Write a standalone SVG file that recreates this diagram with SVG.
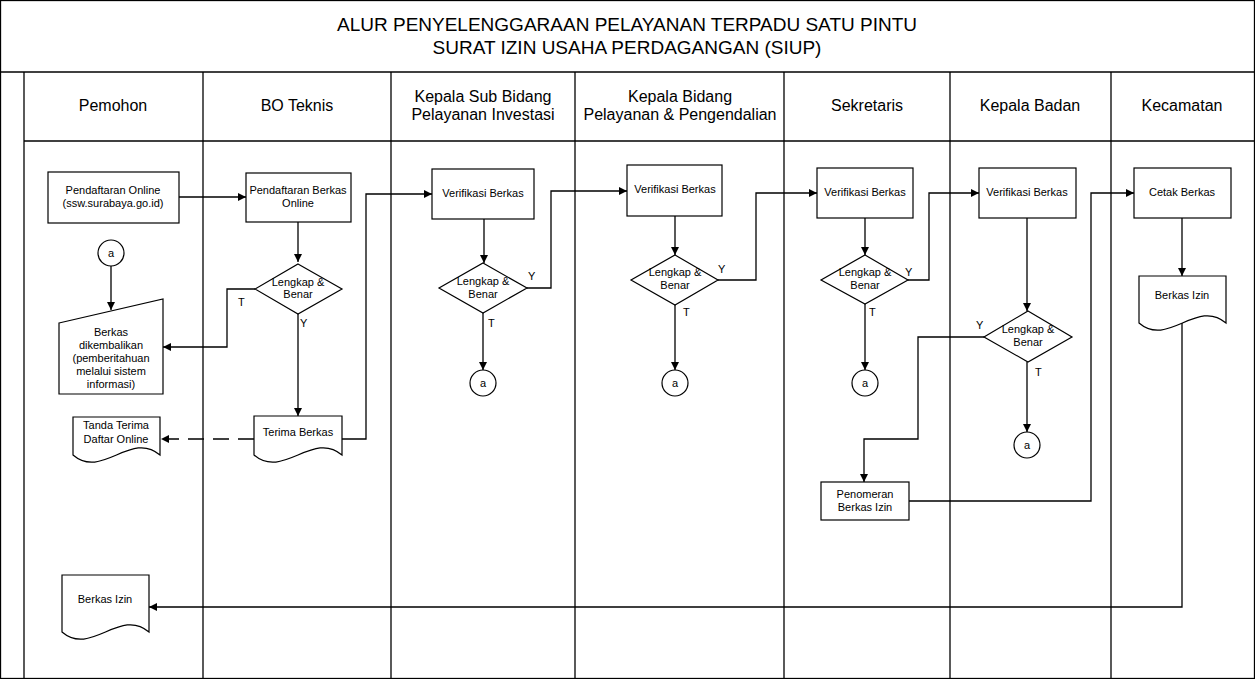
<svg xmlns="http://www.w3.org/2000/svg" width="1255" height="679" viewBox="0 0 1255 679">
<style>
text{font-family:"Liberation Sans",Arial,sans-serif;fill:#000}
.t{font-size:19px;text-anchor:middle}
.h{font-size:16px;text-anchor:middle}
.n{font-size:11px;text-anchor:middle}
.l{font-size:11px}
.grid{stroke:#000;stroke-width:1.3;fill:none}
.s{fill:#fff;stroke:#000;stroke-width:1.2}
.c{fill:none;stroke:#000;stroke-width:1.3;marker-end:url(#ah)}
.cn{fill:none;stroke:#000;stroke-width:1.3}
.d{fill:none;stroke:#000;stroke-width:1.3;stroke-dasharray:16 9;marker-end:url(#ah)}
</style>
<defs>
<marker id="ah" viewBox="0 0 10 10" refX="10" refY="5" markerWidth="8" markerHeight="8" markerUnits="userSpaceOnUse" orient="auto"><path d="M0,0 L10,5 L0,10 z" fill="#000"/></marker>
</defs>
<rect width="1255" height="679" fill="#fff"/>
<g id="frame">
<rect class="grid" x="0.5" y="0.5" width="1254" height="678"/>
<line class="grid" x1="0" y1="72" x2="1255" y2="72"/>
<line class="grid" x1="24" y1="141" x2="1255" y2="141"/>
<line class="grid" x1="24" y1="72" x2="24" y2="679"/>
<line class="grid" x1="203" y1="72" x2="203" y2="679"/>
<line class="grid" x1="391" y1="72" x2="391" y2="679"/>
<line class="grid" x1="575" y1="72" x2="575" y2="679"/>
<line class="grid" x1="784" y1="72" x2="784" y2="679"/>
<line class="grid" x1="950" y1="72" x2="950" y2="679"/>
<line class="grid" x1="1111" y1="72" x2="1111" y2="679"/>
<text class="t" x="627" y="31">ALUR PENYELENGGARAAN PELAYANAN TERPADU SATU PINTU</text>
<text class="t" x="627" y="54">SURAT IZIN USAHA PERDAGANGAN (SIUP)</text>
<text class="h" x="113" y="111">Pemohon</text>
<text class="h" x="297" y="111">BO Teknis</text>
<text class="h" x="483" y="102">Kepala Sub Bidang</text>
<text class="h" x="483" y="120">Pelayanan Investasi</text>
<text class="h" x="680" y="102">Kepala Bidang</text>
<text class="h" x="680" y="120">Pelayanan &amp; Pengendalian</text>
<text class="h" x="867" y="111">Sekretaris</text>
<text class="h" x="1030" y="111">Kepala Badan</text>
<text class="h" x="1182" y="111">Kecamatan</text>
</g>
<g id="connectors">
<path class="c" d="M179,197 H246"/>
<path class="c" d="M111,266 V310"/>
<path class="c" d="M298,222 V262"/>
<path class="c" d="M255,289 H227 V347 H163"/>
<path class="c" d="M298,314 V416"/>
<path class="d" d="M254,439 H161"/>
<path class="c" d="M342,439 H366 V194 H432"/>
<path class="c" d="M484,219 V263"/>
<path class="c" d="M527,288 H551 V191 H627"/>
<path class="c" d="M483,313 V370"/>
<path class="c" d="M675,216 V255"/>
<path class="c" d="M718,280 H756 V193 H817"/>
<path class="c" d="M675,305 V370"/>
<path class="c" d="M865,218 V255"/>
<path class="c" d="M908,280 H929 V193 H979"/>
<path class="c" d="M865,304 V370"/>
<path class="c" d="M1027,218 V311"/>
<path class="c" d="M984,337 H918 V439 H864 V482"/>
<path class="c" d="M1027,362 V432"/>
<path class="c" d="M909,501 H1091 V193 H1134"/>
<path class="c" d="M1182,218 V276"/>
<path class="c" d="M1182,322 V607 H149"/>
<text class="l" x="238" y="306">T</text>
<text class="l" x="300" y="327">Y</text>
<text class="l" x="528" y="280">Y</text>
<text class="l" x="488" y="327">T</text>
<text class="l" x="718" y="273">Y</text>
<text class="l" x="683" y="316">T</text>
<text class="l" x="905" y="276">Y</text>
<text class="l" x="869" y="316">T</text>
<text class="l" x="976" y="329">Y</text>
<text class="l" x="1035" y="376">T</text>
</g>
<g id="pendaftaran-online">
<rect class="s" x="48" y="172" width="131" height="51"/>
<text class="n" x="113" y="194">Pendaftaran Online</text>
<text class="n" x="113" y="207">(ssw.surabaya.go.id)</text>
</g>
<g id="connector-a-pemohon">
<circle class="s" cx="111" cy="253" r="13"/>
<text class="n" x="111" y="257">a</text>
</g>
<g id="berkas-dikembalikan">
<path class="s" d="M59,323 L163,299 V394 H59 Z"/>
<text class="n" x="111" y="336">Berkas</text>
<text class="n" x="111" y="349">dikembalikan</text>
<text class="n" x="111" y="362">(pemberitahuan</text>
<text class="n" x="111" y="375">melalui sistem</text>
<text class="n" x="111" y="388">informasi)</text>
</g>
<g id="tanda-terima">
<path class="s" d="M73,417 H160 V455 C131,430 102,480 73,455 Z"/>
<text class="n" x="116" y="429">Tanda Terima</text>
<text class="n" x="116" y="443">Daftar Online</text>
</g>
<g id="berkas-izin-pemohon">
<path class="s" d="M62,575 H149 V632 C120,607 91,657 62,632 Z"/>
<text class="n" x="105" y="603">Berkas Izin</text>
</g>
<g id="pendaftaran-berkas-online">
<rect class="s" x="246" y="173" width="105" height="49"/>
<text class="n" x="298" y="194">Pendaftaran Berkas</text>
<text class="n" x="298" y="207">Online</text>
</g>
<g id="cek-bo">
<path class="s" d="M298,264 L342,289 L298,314 L255,289 Z"/>
<text class="n" x="298" y="286">Lengkap &amp;</text>
<text class="n" x="298" y="298">Benar</text>
</g>
<g id="terima-berkas">
<path class="s" d="M254,416 H342 V455 C313,430 283,480 254,455 Z"/>
<text class="n" x="298" y="436">Terima Berkas</text>
</g>
<g id="verifikasi-kasubid">
<rect class="s" x="432" y="169" width="102" height="50"/>
<text class="n" x="483" y="197">Verifikasi Berkas</text>
</g>
<g id="cek-kasubid">
<path class="s" d="M483,263 L527,288 L483,313 L439,288 Z"/>
<text class="n" x="483" y="285">Lengkap &amp;</text>
<text class="n" x="483" y="298">Benar</text>
</g>
<g id="a-kasubid">
<circle class="s" cx="483" cy="383" r="13"/>
<text class="n" x="483" y="387">a</text>
</g>
<g id="verifikasi-kabid">
<rect class="s" x="627" y="165" width="95" height="51"/>
<text class="n" x="675" y="193">Verifikasi Berkas</text>
</g>
<g id="cek-kabid">
<path class="s" d="M675,255 L718,280 L675,305 L631,280 Z"/>
<text class="n" x="675" y="276">Lengkap &amp;</text>
<text class="n" x="675" y="289">Benar</text>
</g>
<g id="a-kabid">
<circle class="s" cx="675" cy="383" r="13"/>
<text class="n" x="675" y="387">a</text>
</g>
<g id="verifikasi-sekretaris">
<rect class="s" x="817" y="168" width="96" height="50"/>
<text class="n" x="865" y="196">Verifikasi Berkas</text>
</g>
<g id="cek-sekretaris">
<path class="s" d="M865,255 L908,280 L865,304 L821,280 Z"/>
<text class="n" x="865" y="276">Lengkap &amp;</text>
<text class="n" x="865" y="289">Benar</text>
</g>
<g id="a-sekretaris">
<circle class="s" cx="865" cy="383" r="13"/>
<text class="n" x="865" y="387">a</text>
</g>
<g id="penomeran">
<rect class="s" x="821" y="482" width="88" height="38"/>
<text class="n" x="865" y="498">Penomeran</text>
<text class="n" x="865" y="511">Berkas Izin</text>
</g>
<g id="verifikasi-kaban">
<rect class="s" x="979" y="168" width="97" height="50"/>
<text class="n" x="1027" y="196">Verifikasi Berkas</text>
</g>
<g id="cek-kaban">
<path class="s" d="M1028,311 L1072,337 L1028,362 L984,337 Z"/>
<text class="n" x="1028" y="333">Lengkap &amp;</text>
<text class="n" x="1028" y="346">Benar</text>
</g>
<g id="a-kaban">
<circle class="s" cx="1027" cy="445" r="13"/>
<text class="n" x="1027" y="449">a</text>
</g>
<g id="cetak-berkas">
<rect class="s" x="1134" y="168" width="97" height="50"/>
<text class="n" x="1182" y="196">Cetak Berkas</text>
</g>
<g id="berkas-izin-kecamatan">
<path class="s" d="M1139,276 H1226 V323 C1197,298 1168,348 1139,323 Z"/>
<text class="n" x="1182" y="299">Berkas Izin</text>
</g>
</svg>
